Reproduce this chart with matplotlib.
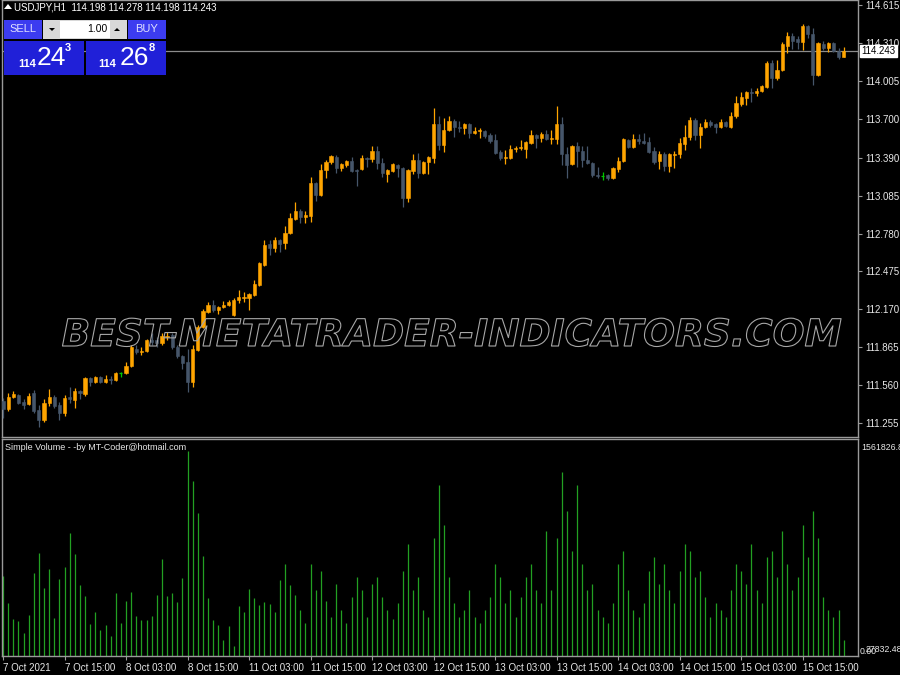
import matplotlib
matplotlib.use('Agg')
import matplotlib.pyplot as plt
import matplotlib.patheffects as pe
from matplotlib.patches import Rectangle, Polygon

plt.rcParams['font.family'] = ['Liberation Sans', 'DejaVu Sans']

# USDJPY H1 candles, 7 Oct 03:00 .. 15 Oct 23:00
opens = [111.435, 111.371, 111.467, 111.483, 111.427, 111.411, 111.499, 111.363, 111.282, 111.419,
         111.467, 111.403, 111.339, 111.467, 111.443, 111.515, 111.491, 111.620, 111.588, 111.628,
         111.588, 111.612, 111.604, 111.660, 111.660, 111.716, 111.853, 111.828, 111.836, 111.925,
         111.925, 111.901, 111.949, 111.965, 111.869, 111.796, 111.748, 111.588, 111.845, 112.029,
         112.150, 112.206, 112.166, 112.190, 112.206, 112.126, 112.246, 112.262, 112.262, 112.286,
         112.367, 112.527, 112.696, 112.664, 112.728, 112.704, 112.784, 112.896, 112.961, 112.912,
         112.920, 113.186, 113.089, 113.290, 113.354, 113.394, 113.306, 113.330, 113.362, 113.290,
         113.298, 113.386, 113.378, 113.442, 113.346, 113.258, 113.282, 113.330, 113.306, 113.065,
         113.282, 113.370, 113.266, 113.354, 113.386, 113.659, 113.491, 113.611, 113.683, 113.635,
         113.627, 113.659, 113.587, 113.603, 113.603, 113.571, 113.531, 113.434, 113.386, 113.386,
         113.458, 113.463, 113.458, 113.507, 113.571, 113.547, 113.579, 113.539, 113.539, 113.659,
         113.418, 113.338, 113.483, 113.442, 113.370, 113.346, 113.250, 113.242, 113.250, 113.227,
         113.298, 113.362, 113.531, 113.475, 113.539, 113.523, 113.515, 113.442, 113.362, 113.418,
         113.322, 113.410, 113.418, 113.499, 113.555, 113.691, 113.571, 113.635, 113.675, 113.659,
         113.635, 113.675, 113.635, 113.724, 113.820, 113.868, 113.916, 113.908, 113.924, 113.956,
         114.149, 114.029, 114.093, 114.286, 114.366, 114.342, 114.318, 114.446, 114.382, 114.053,
         114.302, 114.270, 114.310, 114.245, 114.198]
highs = [111.459, 111.499, 111.515, 111.491, 111.451, 111.499, 111.523, 111.403, 111.451, 111.531,
         111.483, 111.427, 111.483, 111.547, 111.539, 111.523, 111.628, 111.628, 111.636, 111.636,
         111.644, 111.636, 111.668, 111.668, 111.748, 111.885, 111.885, 111.869, 111.933, 111.981,
         111.949, 111.981, 111.989, 111.981, 111.885, 111.804, 111.853, 111.885, 112.045, 112.174,
         112.230, 112.246, 112.198, 112.238, 112.246, 112.262, 112.326, 112.310, 112.302, 112.407,
         112.551, 112.728, 112.728, 112.752, 112.736, 112.840, 112.945, 113.033, 112.977, 112.961,
         113.234, 113.194, 113.338, 113.370, 113.410, 113.410, 113.346, 113.370, 113.394, 113.298,
         113.410, 113.394, 113.483, 113.483, 113.386, 113.298, 113.346, 113.338, 113.314, 113.298,
         113.418, 113.426, 113.362, 113.402, 113.788, 113.724, 113.707, 113.724, 113.699, 113.683,
         113.667, 113.667, 113.635, 113.627, 113.611, 113.587, 113.579, 113.450, 113.450, 113.491,
         113.483, 113.531, 113.523, 113.611, 113.579, 113.595, 113.611, 113.611, 113.804, 113.715,
         113.475, 113.491, 113.515, 113.483, 113.483, 113.354, 113.314, 113.274, 113.258, 113.314,
         113.394, 113.547, 113.539, 113.579, 113.579, 113.587, 113.555, 113.475, 113.442, 113.434,
         113.426, 113.442, 113.547, 113.651, 113.715, 113.707, 113.667, 113.699, 113.691, 113.667,
         113.699, 113.683, 113.756, 113.884, 113.916, 113.924, 113.948, 113.948, 113.972, 114.165,
         114.173, 114.173, 114.318, 114.398, 114.390, 114.366, 114.462, 114.454, 114.430, 114.318,
         114.326, 114.318, 114.318, 114.270, 114.278]
lows = [111.298, 111.355, 111.459, 111.411, 111.371, 111.403, 111.339, 111.226, 111.266, 111.395,
        111.379, 111.282, 111.315, 111.419, 111.379, 111.451, 111.475, 111.555, 111.580, 111.580,
        111.580, 111.571, 111.596, 111.628, 111.652, 111.708, 111.812, 111.804, 111.828, 111.885,
        111.869, 111.885, 111.925, 111.853, 111.780, 111.692, 111.507, 111.547, 111.836, 112.021,
        112.142, 112.150, 112.134, 112.182, 112.198, 112.118, 112.222, 112.230, 112.166, 112.278,
        112.359, 112.519, 112.607, 112.631, 112.631, 112.656, 112.776, 112.888, 112.864, 112.864,
        112.872, 113.041, 113.081, 113.227, 113.338, 113.266, 113.282, 113.314, 113.274, 113.161,
        113.290, 113.314, 113.354, 113.298, 113.234, 113.194, 113.274, 113.234, 112.993, 113.033,
        113.258, 113.227, 113.258, 113.258, 113.346, 113.450, 113.434, 113.603, 113.555, 113.595,
        113.579, 113.547, 113.579, 113.547, 113.547, 113.507, 113.418, 113.370, 113.338, 113.378,
        113.434, 113.450, 113.386, 113.499, 113.467, 113.515, 113.531, 113.499, 113.499, 113.330,
        113.227, 113.330, 113.314, 113.314, 113.338, 113.234, 113.227, 113.210, 113.210, 113.218,
        113.274, 113.354, 113.467, 113.467, 113.499, 113.499, 113.426, 113.338, 113.298, 113.282,
        113.274, 113.306, 113.386, 113.450, 113.531, 113.531, 113.467, 113.627, 113.635, 113.587,
        113.627, 113.635, 113.627, 113.707, 113.804, 113.812, 113.836, 113.884, 113.916, 113.948,
        113.948, 114.013, 114.085, 114.229, 114.262, 114.262, 114.253, 114.350, 113.972, 114.045,
        114.253, 114.237, 114.237, 114.181, 114.198]
closes = [111.371, 111.467, 111.491, 111.419, 111.403, 111.475, 111.355, 111.282, 111.419, 111.467,
          111.395, 111.339, 111.459, 111.451, 111.515, 111.499, 111.620, 111.588, 111.628, 111.588,
          111.612, 111.604, 111.660, 111.660, 111.716, 111.869, 111.828, 111.836, 111.925, 111.909,
          111.901, 111.957, 111.957, 111.869, 111.796, 111.740, 111.588, 111.853, 112.029, 112.158,
          112.206, 112.166, 112.190, 112.206, 112.230, 112.246, 112.270, 112.270, 112.294, 112.375,
          112.543, 112.688, 112.664, 112.728, 112.696, 112.784, 112.904, 112.961, 112.912, 112.928,
          113.186, 113.089, 113.290, 113.354, 113.402, 113.306, 113.338, 113.362, 113.282, 113.282,
          113.386, 113.378, 113.442, 113.346, 113.266, 113.290, 113.338, 113.306, 113.065, 113.290,
          113.370, 113.266, 113.354, 113.394, 113.659, 113.491, 113.611, 113.683, 113.635, 113.627,
          113.659, 113.587, 113.603, 113.611, 113.563, 113.523, 113.426, 113.386, 113.394, 113.458,
          113.463, 113.475, 113.515, 113.571, 113.547, 113.579, 113.539, 113.547, 113.659, 113.418,
          113.330, 113.483, 113.442, 113.370, 113.346, 113.250, 113.242, 113.242, 113.227, 113.306,
          113.362, 113.539, 113.475, 113.539, 113.523, 113.507, 113.434, 113.354, 113.418, 113.322,
          113.418, 113.418, 113.507, 113.555, 113.691, 113.571, 113.635, 113.675, 113.651, 113.635,
          113.675, 113.643, 113.724, 113.828, 113.876, 113.916, 113.908, 113.924, 113.964, 114.149,
          114.029, 114.093, 114.302, 114.366, 114.326, 114.318, 114.446, 114.382, 114.053, 114.310,
          114.270, 114.310, 114.245, 114.197, 114.243]

# tick volume, thousands
volumes = [609, 402, 281, 263, 174, 311, 629, 781, 521, 660,
           288, 589, 680, 933, 773, 541, 453, 243, 331, 199,
           235, 154, 483, 250, 419, 488, 306, 275, 275, 301,
           463, 741, 453, 483, 412, 591, 1562, 1329, 1090, 760,
           445, 275, 235, 121, 230, 76, 381, 336, 508, 440,
           387, 412, 394, 336, 579, 698, 541, 465, 350, 250,
           700, 500, 650, 420, 300, 550, 350, 250, 450, 600,
           500, 300, 550, 600, 450, 350, 280, 400, 650, 850,
           500, 600, 350, 300, 900, 1300, 1000, 600, 400, 300,
           350, 500, 300, 250, 350, 450, 700, 600, 400, 500,
           300, 450, 600, 700, 500, 400, 950, 500, 900, 1400,
           1100, 800, 1300, 700, 500, 550, 350, 300, 250, 400,
           700, 800, 500, 350, 300, 400, 650, 750, 550, 700,
           500, 400, 650, 850, 800, 600, 650, 450, 300, 400,
           350, 300, 500, 700, 650, 550, 850, 500, 400, 750,
           800, 600, 950, 700, 500, 600, 1000, 750, 1100, 900,
           450, 350, 300, 350, 120]

time_labels = ['7 Oct 2021', '7 Oct 15:00', '8 Oct 03:00', '8 Oct 15:00', '11 Oct 03:00',
               '11 Oct 15:00', '12 Oct 03:00', '12 Oct 15:00', '13 Oct 03:00', '13 Oct 15:00',
               '14 Oct 03:00', '14 Oct 15:00', '15 Oct 03:00', '15 Oct 15:00']
price_ticks = [114.615, 114.310, 114.005, 113.700, 113.390, 113.085, 112.780,
               112.475, 112.170, 111.865, 111.560, 111.255]
last_price = 114.243
vol_max_label = '1561826.8'
vol_min_labels = ['27832.487', '0.00']

UP = '#ffa500'
DOWN = '#46566a'
DOJI = '#00c800'
GRID = '#9a9a9a'
TXT = '#e8e8e8'

fig = plt.figure(figsize=(9, 6.75), dpi=100, facecolor='black')
ax = fig.add_axes([2 / 900, 1 - 437 / 675, 856 / 900, 437 / 675])
ax2 = fig.add_axes([2 / 900, 1 - 656 / 675, 856 / 900, 217 / 675])

for a in (ax, ax2):
    a.set_facecolor('black')
    for s in a.spines.values():
        s.set_color(GRID)
        s.set_linewidth(1)

n = len(closes)
x = list(range(n))
for i in x:
    o, h, l, c = opens[i], highs[i], lows[i], closes[i]
    if c > o:
        col = UP
    elif c < o:
        col = DOWN
    else:
        col = DOJI
    ax.vlines(i, l, h, color=col, linewidth=0.9, zorder=3)
    if c == o:
        ax.hlines(c, i - 0.3, i + 0.3, color=col, linewidth=0.9, zorder=4)
    else:
        ax.bar(i, abs(c - o), bottom=min(o, c), width=0.62, color=col,
               edgecolor=col, linewidth=0.4, zorder=4)

ax.axhline(last_price, color='#8c8c8c', linewidth=0.9, zorder=2)
ax.set_xlim(-0.2, 166.8)
ax.set_ylim(111.146, 114.655)
ax.set_xticks([])
ax.yaxis.tick_right()
ax.set_yticks(price_ticks)
ax.set_yticklabels(['%.3f' % t for t in price_ticks])
ax.tick_params(axis='y', colors=GRID, labelcolor=TXT, labelsize=7, length=3, width=0.8, pad=2)

ax2.vlines(x, 0, [v * 1000 for v in volumes], color='#22a022', linewidth=0.9)
ax2.set_xlim(-0.2, 166.8)
ax2.set_ylim(0, max(volumes) * 1000 * 1.057)
ax2.set_yticks([])
tick_pos = list(range(0, n, 12))
ax2.set_xticks(tick_pos)
ax2.set_xticklabels(time_labels, ha='left')
ax2.tick_params(axis='x', colors=GRID, labelcolor=TXT, labelsize=7, length=3, width=0.8, pad=2)

# overlay in pixel coordinates for terminal decorations
ov = fig.add_axes([0, 0, 1, 1], facecolor='none')
ov.set_xlim(0, 900)
ov.set_ylim(675, 0)
ov.axis('off')

ov.text(452, 336, 'BEST-METATRADER-INDICATORS.COM', ha='center', va='center',
        fontsize=27, family='DejaVu Sans', style='italic', weight='bold', color='none',
        path_effects=[pe.withStroke(linewidth=0.8, foreground='#a8a8a8')])

ov.text(861, 51, '%.3f' % last_price, ha='left', va='center', fontsize=7, color='black',
        bbox=dict(boxstyle='square,pad=0.15', facecolor='white', edgecolor='white'))

ov.text(861, 447, vol_max_label, ha='left', va='center', fontsize=6.3, color=TXT)
ov.text(866, 649, vol_min_labels[0], ha='left', va='center', fontsize=6.3, color=TXT)
ov.text(860, 652, vol_min_labels[1], ha='left', va='center', fontsize=6.3, color=TXT)
ov.text(5, 448, 'Simple Volume - -by MT-Coder@hotmail.com', ha='left', va='center',
        fontsize=6.5, color=TXT)

# symbol header
ov.add_patch(Polygon([[4, 9], [8, 4], [12, 9]], closed=True, facecolor='white', edgecolor='none'))
ov.text(14, 7, 'USDJPY,H1  %.3f %.3f %.3f %.3f' % (opens[-1], highs[-1], lows[-1], closes[-1]),
        ha='left', va='center', fontsize=7, color='white')

# one-click trading panel
BTN = '#3c3cf0'
BOX = '#2020d8'
ov.add_patch(Rectangle((4, 20), 38, 19, facecolor=BTN, edgecolor='none'))
ov.add_patch(Rectangle((128, 20), 38, 19, facecolor=BTN, edgecolor='none'))
ov.add_patch(Rectangle((43, 20), 84, 19, facecolor='#d8d8d8', edgecolor='none'))
ov.add_patch(Rectangle((60, 21), 50, 17, facecolor='white', edgecolor='none'))
ov.add_patch(Polygon([[49, 28], [55, 28], [52, 31]], closed=True, facecolor='black'))
ov.add_patch(Polygon([[114, 31], [120, 31], [117, 28]], closed=True, facecolor='black'))
ov.text(23, 29.5, 'SELL', ha='center', va='center', fontsize=8, color='#e0e0ff')
ov.text(147, 29.5, 'BUY', ha='center', va='center', fontsize=8, color='#e0e0ff')
ov.text(107, 29.5, '1.00', ha='right', va='center', fontsize=7.5, color='black')
ov.add_patch(Rectangle((4, 41), 80, 34, facecolor=BOX, edgecolor='none'))
ov.add_patch(Rectangle((86, 41), 80, 34, facecolor=BOX, edgecolor='none'))
ov.text(27, 64, '114', ha='center', va='center', fontsize=8, weight='bold', color='white')
ov.text(51, 58, '24', ha='center', va='center', fontsize=19, color='white')
ov.text(68, 48, '3', ha='center', va='center', fontsize=8, weight='bold', color='white')
ov.text(107, 64, '114', ha='center', va='center', fontsize=8, weight='bold', color='white')
ov.text(134, 58, '26', ha='center', va='center', fontsize=19, color='white')
ov.text(152, 48, '8', ha='center', va='center', fontsize=8, weight='bold', color='white')

fig.savefig('out.png', dpi=100, facecolor='black')
